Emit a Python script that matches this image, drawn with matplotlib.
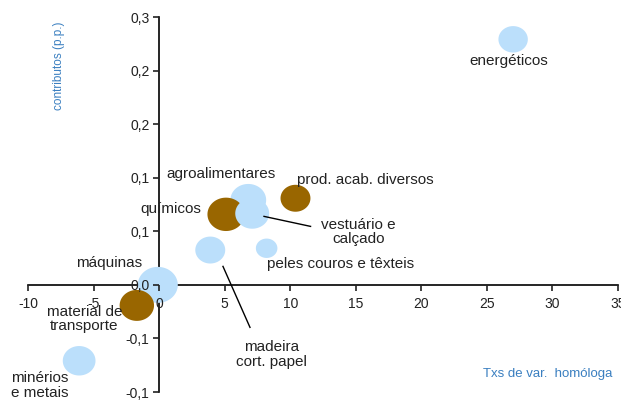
import matplotlib.pyplot as plt
import numpy as np
from matplotlib.ticker import FuncFormatter

plt.rcParams['font.family'] = ['Liberation Sans', 'DejaVu Sans']
plt.rcParams['axes.unicode_minus'] = False

# produtos: taxa de variação homóloga (x), contributo em p.p. (y), peso relativo
produtos = ['agroalimentares', 'químicos', 'vestuário e\ncalçado', 'energéticos',
            'prod. acab. diversos', 'madeira\ncort. papel', 'peles couros e têxteis',
            'máquinas', 'material de\ntransporte', 'minérios\ne metais']
txs_var = [6.8, 5.1, 7.1, 27.0, 10.4, 3.9, 8.2, -0.1, -1.7, -6.1]
contributos = [0.095, 0.079, 0.080, 0.275, 0.097, 0.039, 0.041, 0.000, -0.023, -0.085]
pesos = [8.0, 8.6, 7.2, 5.4, 5.6, 5.6, 2.9, 10.0, 7.4, 6.7]
grupo = [0, 1, 0, 0, 1, 0, 0, 0, 1, 0]

xticks = list(range(-10, 36, 5))
yticks = [-0.12, -0.06, 0.0, 0.06, 0.12, 0.18, 0.24, 0.30]

cores = ['#BBDFFB', '#996600']

fig = plt.figure(figsize=(6.21, 4.01), dpi=100)
ax = fig.add_axes([0.0451, 0.0224, 0.9501, 0.9352])

# marcador ligeiramente achatado, como as bolhas originais
t = np.linspace(0, 2 * np.pi, 80)
elipse = np.column_stack([np.cos(t), 0.9 * np.sin(t)])

for i in range(len(produtos)):
    largura = 40 * np.sqrt(pesos[i] / 10.0) * 0.72
    ax.scatter(txs_var[i], contributos[i], s=largura ** 2, marker=elipse,
               color=cores[grupo[i]], edgecolors='none', zorder=2)

ax.set_xlim(-10, 35)
ax.set_ylim(-0.12, 0.30)
ax.set_xticks(xticks)
ax.set_yticks(yticks)
ax.yaxis.set_major_formatter(FuncFormatter(lambda v, p: f'{v:.1f}'.replace('.', ',')))

for s in ['top', 'right']:
    ax.spines[s].set_visible(False)
ax.spines['left'].set_position(('data', 0))
ax.spines['bottom'].set_position(('data', 0))
for s in ['left', 'bottom']:
    ax.spines[s].set_zorder(1)
    ax.spines[s].set_linewidth(1.2)
ax.xaxis.set_zorder(3)
ax.yaxis.set_zorder(3)
ax.tick_params(axis='both', direction='out', length=4, width=1.2, labelsize=10,
               colors='#222222')
ax.tick_params(axis='x', pad=5)
ax.tick_params(axis='y', pad=3)
ax.set_facecolor('none')

kw = dict(fontsize=11, color='#222222', zorder=4, linespacing=1.05)
ax.text(26.7, 0.251, 'energéticos', ha='center', va='center', **kw)
ax.text(10.55, 0.118, 'prod. acab. diversos', ha='left', va='center', **kw)
ax.text(4.7, 0.124, 'agroalimentares', ha='center', va='center', **kw)
ax.text(0.9, 0.0845, 'químicos', ha='center', va='center', **kw)
ax.text(15.2, 0.059, 'vestuário e\ncalçado', ha='center', va='center', **kw)
ax.text(8.2, 0.023, 'peles couros e têxteis', ha='left', va='center', **kw)
ax.text(-3.8, 0.025, 'máquinas', ha='center', va='center', **kw)
ax.text(-5.7, -0.038, 'material de\ntransporte', ha='center', va='center', **kw)
ax.text(8.6, -0.078, 'madeira\ncort. papel', ha='center', va='center', **kw)
ax.text(-9.1, -0.113, 'minérios\ne metais', ha='center', va='center', **kw)

# linhas de chamada
ax.plot([8.0, 11.55], [0.0767, 0.0655], color='black', lw=1, zorder=4)
ax.plot([4.87, 6.93], [0.0207, -0.0476], color='black', lw=1, zorder=4)

ax.text(-7.6, 0.245, 'contributos (p.p.)', rotation=90, ha='center', va='center',
        fontsize=8.5, color='#3A7FC0')
ax.text(34.6, -0.10, 'Txs de var.  homóloga', ha='right', va='center',
        fontsize=9.5, color='#3A7FC0')

fig.savefig('out.png', dpi=100)
